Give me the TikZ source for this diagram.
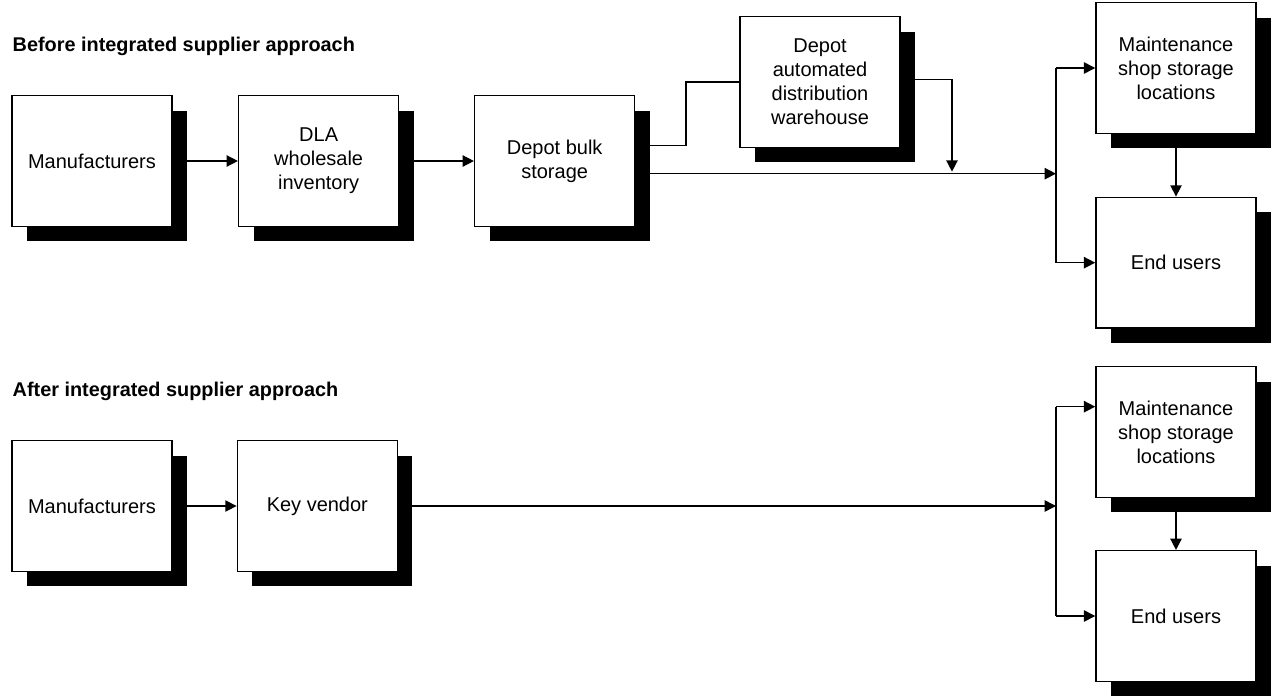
\documentclass[tikz,border=0pt]{standalone}
\usepackage{fontspec}
\setmainfont{Liberation Sans}
\usetikzlibrary{arrows.meta,shadows,positioning}

\begin{document}
\begin{tikzpicture}[->,>={Triangle[length=8.5pt,width=8.5pt]},x=0.75pt,y=0.75pt,line width=1.1pt,
    box node/.style={rectangle,draw,fill=white,align=center,
      font=\fontsize{15}{18}\selectfont,minimum width=120pt,minimum height=98pt,
      drop shadow={shadow xshift=11.25pt,shadow yshift=-11.25pt,fill=black,opacity=1}},
    title node/.style={anchor=base west,inner sep=0pt,
      font=\bfseries\fontsize{14.9}{18}\selectfont}]
  \path[use as bounding box] (0,0) rectangle (1272,-696);

  % before
  \node[title node] (T1) at (12,-51) {Before integrated supplier approach};
  \node[box node] (MF1) at (92,-161) {Manufacturers};
  \node[box node] (DLA) [node distance=170pt, right of=MF1] {DLA\\wholesale\\inventory};
  \node[box node] (BULK) [node distance=177pt, right of=DLA] {Depot bulk\\storage};
  \node[box node] (AUTO) at (820,-82) {Depot\\automated\\distribution\\warehouse};
  \node[box node] (SH1) at (1176,-68) {Maintenance\\shop storage\\locations};
  \node[box node] (EU1) [node distance=146pt, below of=SH1] {End users};

  % after
  \node[title node] (T2) at (12,-396) {After integrated supplier approach};
  \node[box node] (MF2) at (92,-506) {Manufacturers};
  \node[box node] (KV) [node distance=169pt, right of=MF2] {Key vendor};
  \node[box node] (SH2) at (1176,-432) {Maintenance\\shop storage\\locations};
  \node[box node] (EU2) [node distance=138pt, below of=SH2] {End users};

  \coordinate (B1) at ([yshift=-9.5pt]BULK.east);
  \coordinate (B2) at ([yshift=11.5pt]BULK.east);
  \coordinate (A1) at ([yshift=2pt]AUTO.east);
  \coordinate (S2) at ([yshift=19pt]SH2.west);
  \coordinate (kink) at (686,0);
  \coordinate (drop) at (952,0);
  \coordinate (bus) at (1056,0);

  \path
    (MF1) edge (DLA)
    (DLA) edge (BULK)
    (SH1) edge (EU1)
    (MF2) edge (KV)
    (SH2) edge (EU2);

  \draw[-] (B2) -- (B2 -| kink) |- (AUTO);
  \draw[shorten >=1.5pt] (A1) -| (B1 -| drop);
  \draw (B1) -- (B1 -| bus);
  \draw[-] (bus |- SH1) -- (bus |- EU1);
  \draw (bus |- SH1) -- (SH1);
  \draw (bus |- EU1) -- (EU1);

  \draw (KV) -- (KV -| bus);
  \draw[-] (bus |- S2) -- (bus |- EU2);
  \draw (bus |- S2) -- (S2);
  \draw (bus |- EU2) -- (EU2);
\end{tikzpicture}
\end{document}
